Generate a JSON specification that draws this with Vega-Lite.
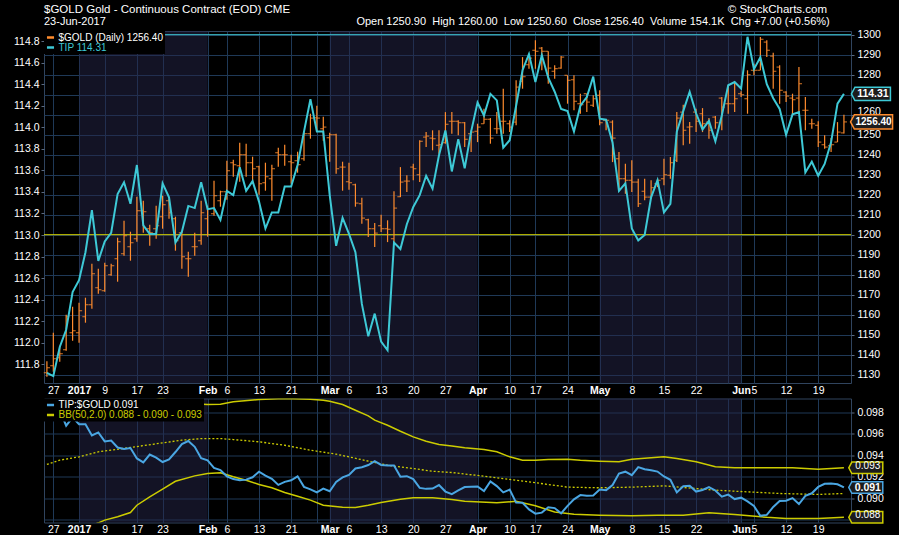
{
  "$schema": "https://vega.github.io/schema/vega-lite/v6.json",
  "background": "#000000",
  "padding": {"left": 13, "top": 3, "right": 4, "bottom": 2},
  "autosize": {"type": "pad"},
  "title": {
    "text": "$GOLD Gold - Continuous Contract (EOD) CME\u00a0\u00a0\u00a0\u00a0\u00a0\u00a0\u00a0\u00a0\u00a0\u00a0\u00a0\u00a0\u00a0\u00a0\u00a0\u00a0\u00a0\u00a0\u00a0\u00a0\u00a0\u00a0\u00a0\u00a0\u00a0\u00a0\u00a0\u00a0\u00a0\u00a0\u00a0\u00a0\u00a0\u00a0\u00a0\u00a0\u00a0\u00a0\u00a0\u00a0\u00a0\u00a0\u00a0\u00a0\u00a0\u00a0\u00a0\u00a0\u00a0\u00a0\u00a0\u00a0\u00a0\u00a0\u00a0\u00a0\u00a0\u00a0\u00a0\u00a0\u00a0\u00a0\u00a0\u00a0\u00a0\u00a0\u00a0\u00a0\u00a0\u00a0\u00a0\u00a0\u00a0\u00a0\u00a0\u00a0\u00a0\u00a0\u00a0\u00a0\u00a0\u00a0\u00a0\u00a0\u00a0\u00a0\u00a0\u00a0\u00a0\u00a0\u00a0\u00a0\u00a0\u00a0\u00a0\u00a0\u00a0\u00a0\u00a0\u00a0\u00a0\u00a0\u00a0\u00a0\u00a0\u00a0\u00a0\u00a0\u00a0\u00a0\u00a0\u00a0\u00a0\u00a0\u00a0\u00a0\u00a0\u00a0\u00a0\u00a0\u00a0\u00a0\u00a0\u00a0\u00a0\u00a0\u00a0\u00a0\u00a0\u00a0\u00a0\u00a0\u00a0\u00a0\u00a0\u00a0\u00a0© StockCharts.com",
    "subtitle": "23-Jun-2017\u00a0\u00a0\u00a0\u00a0\u00a0\u00a0\u00a0\u00a0\u00a0\u00a0\u00a0\u00a0\u00a0\u00a0\u00a0\u00a0\u00a0\u00a0\u00a0\u00a0\u00a0\u00a0\u00a0\u00a0\u00a0\u00a0\u00a0\u00a0\u00a0\u00a0\u00a0\u00a0\u00a0\u00a0\u00a0\u00a0\u00a0\u00a0\u00a0\u00a0\u00a0\u00a0\u00a0\u00a0\u00a0\u00a0\u00a0\u00a0\u00a0\u00a0\u00a0\u00a0\u00a0\u00a0\u00a0\u00a0\u00a0\u00a0\u00a0\u00a0\u00a0\u00a0\u00a0\u00a0\u00a0\u00a0\u00a0\u00a0\u00a0\u00a0\u00a0\u00a0\u00a0\u00a0\u00a0\u00a0\u00a0\u00a0\u00a0\u00a0\u00a0\u00a0Open 1250.90\u00a0 High 1260.00\u00a0 Low 1250.60\u00a0 Close 1256.40\u00a0 Volume 154.1K\u00a0 Chg +7.00 (+0.56%)",
    "anchor": "start",
    "color": "#ffffff",
    "subtitleColor": "#ffffff",
    "font": "Liberation Sans",
    "subtitleFont": "Liberation Sans",
    "fontSize": 11.5,
    "fontWeight": "normal",
    "subtitleFontSize": 11,
    "subtitleFontWeight": "normal",
    "offset": 2,
    "subtitlePadding": 1,
    "dx": 31
  },
  "spacing": 1.5,
  "resolve": {
    "scale": {"x": "independent", "y": "independent", "color": "independent"},
    "axis": {"x": "independent", "y": "independent"},
    "legend": {"color": "independent"}
  },
  "config": {
    "font": "Liberation Sans",
    "view": {"stroke": "#30445e", "strokeWidth": 1},
    "axis": {"labelColor": "#ffffff", "labelFontSize": 10.5, "domain": false, "gridColor": "#1f3957", "tickColor": "#5a6a80", "tickCount": 100}
  },
  "datasets": {
    "months": [
      {"start": 5, "end": 25},
      {"start": 44, "end": 67},
      {"start": 86, "end": 108}
    ],
    "px": [
      {"d":"2016-12-23","i":0,"open":1131,"high":1136.7,"low":1129,"close":1133.5,"tip":111.72,"ratio":0.09856},
      {"d":"2016-12-27","i":1,"open":1134.5,"high":1151,"low":1131.5,"close":1138,"tip":111.69,"ratio":0.09815},
      {"d":"2016-12-28","i":2,"open":1138.5,"high":1144.5,"low":1136.5,"close":1140.5,"tip":111.96,"ratio":0.09817},
      {"d":"2016-12-29","i":3,"open":1142.5,"high":1160,"low":1142,"close":1159,"tip":112.12,"ratio":0.09673},
      {"d":"2016-12-30","i":4,"open":1151,"high":1164,"low":1147,"close":1152,"tip":112.47,"ratio":0.0975},
      {"d":"2017-01-03","i":5,"open":1151,"high":1166,"low":1146,"close":1162,"tip":112.58,"ratio":0.09686},
      {"d":"2017-01-04","i":6,"open":1159,"high":1168.5,"low":1156,"close":1165,"tip":112.84,"ratio":0.09686},
      {"d":"2017-01-05","i":7,"open":1165,"high":1185.5,"low":1163,"close":1180.5,"tip":113.23,"ratio":0.09582},
      {"d":"2017-01-06","i":8,"open":1173.5,"high":1183,"low":1170.5,"close":1172.5,"tip":112.76,"ratio":0.0961},
      {"d":"2017-01-09","i":9,"open":1172,"high":1186,"low":1171.5,"close":1184.5,"tip":112.94,"ratio":0.09527},
      {"d":"2017-01-10","i":10,"open":1180,"high":1185.5,"low":1179.5,"close":1184.5,"tip":113.02,"ratio":0.09535},
      {"d":"2017-01-11","i":11,"open":1188,"high":1198.5,"low":1176.5,"close":1196.5,"tip":113.38,"ratio":0.0947},
      {"d":"2017-01-12","i":12,"open":1190.5,"high":1207,"low":1189.5,"close":1199.5,"tip":113.49,"ratio":0.09457},
      {"d":"2017-01-13","i":13,"open":1194,"high":1201.5,"low":1187,"close":1196,"tip":113.29,"ratio":0.09465},
      {"d":"2017-01-17","i":14,"open":1198,"high":1219,"low":1196.5,"close":1212,"tip":113.65,"ratio":0.09368},
      {"d":"2017-01-18","i":15,"open":1212,"high":1217,"low":1201,"close":1211.5,"tip":113.09,"ratio":0.09332},
      {"d":"2017-01-19","i":16,"open":1203,"high":1205,"low":1194.5,"close":1201,"tip":113.01,"ratio":0.09404},
      {"d":"2017-01-20","i":17,"open":1203,"high":1214.5,"low":1198,"close":1204.5,"tip":113.01,"ratio":0.09375},
      {"d":"2017-01-23","i":18,"open":1209,"high":1219.5,"low":1203,"close":1215,"tip":113.48,"ratio":0.09335},
      {"d":"2017-01-24","i":19,"open":1217,"high":1218,"low":1208,"close":1211,"tip":113.35,"ratio":0.0936},
      {"d":"2017-01-25","i":20,"open":1208,"high":1209,"low":1192,"close":1197,"tip":112.93,"ratio":0.09428},
      {"d":"2017-01-26","i":21,"open":1201,"high":1201.5,"low":1183,"close":1189,"tip":113.03,"ratio":0.09502},
      {"d":"2017-01-27","i":22,"open":1188,"high":1191.5,"low":1179,"close":1188,"tip":113.27,"ratio":0.0953},
      {"d":"2017-01-30","i":23,"open":1194,"high":1201,"low":1189.5,"close":1194,"tip":113.25,"ratio":0.09476},
      {"d":"2017-01-31","i":24,"open":1197,"high":1217,"low":1195,"close":1211,"tip":113.49,"ratio":0.0937},
      {"d":"2017-02-01","i":25,"open":1208,"high":1214.5,"low":1199,"close":1213,"tip":113.24,"ratio":0.0935},
      {"d":"2017-02-02","i":26,"open":1210.5,"high":1227,"low":1209.5,"close":1219.5,"tip":113.25,"ratio":0.0928},
      {"d":"2017-02-03","i":27,"open":1217,"high":1222,"low":1214,"close":1221.5,"tip":113.14,"ratio":0.0926},
      {"d":"2017-02-06","i":28,"open":1221.5,"high":1237,"low":1217.5,"close":1232,"tip":113.41,"ratio":0.09202},
      {"d":"2017-02-07","i":29,"open":1236,"high":1237.5,"low":1229,"close":1235,"tip":113.37,"ratio":0.09176},
      {"d":"2017-02-08","i":30,"open":1234.5,"high":1246,"low":1226.5,"close":1240,"tip":113.63,"ratio":0.09165},
      {"d":"2017-02-09","i":31,"open":1240,"high":1245.5,"low":1229,"close":1236,"tip":113.41,"ratio":0.09171},
      {"d":"2017-02-10","i":32,"open":1236,"high":1239,"low":1225.5,"close":1233,"tip":113.5,"ratio":0.09193},
      {"d":"2017-02-13","i":33,"open":1234,"high":1234.5,"low":1220,"close":1225.5,"tip":113.31,"ratio":0.09245},
      {"d":"2017-02-14","i":34,"open":1226,"high":1236,"low":1222,"close":1229,"tip":113.06,"ratio":0.09209},
      {"d":"2017-02-15","i":35,"open":1228,"high":1235,"low":1217,"close":1233,"tip":113.21,"ratio":0.09178},
      {"d":"2017-02-16","i":36,"open":1241,"high":1243.5,"low":1234,"close":1240,"tip":113.21,"ratio":0.09122},
      {"d":"2017-02-17","i":37,"open":1240,"high":1245,"low":1234.5,"close":1240,"tip":113.45,"ratio":0.0915},
      {"d":"2017-02-21","i":38,"open":1236.5,"high":1240,"low":1225.5,"close":1236,"tip":113.45,"ratio":0.09165},
      {"d":"2017-02-22","i":39,"open":1237,"high":1241.5,"low":1231,"close":1235,"tip":113.65,"ratio":0.09202},
      {"d":"2017-02-23","i":40,"open":1238,"high":1251.5,"low":1237,"close":1250.5,"tip":113.96,"ratio":0.09104},
      {"d":"2017-02-24","i":41,"open":1250.5,"high":1260.5,"low":1248,"close":1258.3,"tip":114.26,"ratio":0.09081},
      {"d":"2017-02-27","i":42,"open":1258.5,"high":1264.5,"low":1251.5,"close":1258.3,"tip":113.96,"ratio":0.09052},
      {"d":"2017-02-28","i":43,"open":1253,"high":1259,"low":1247,"close":1253.8,"tip":113.96,"ratio":0.09088},
      {"d":"2017-03-01","i":44,"open":1248.5,"high":1251,"low":1236.5,"close":1250,"tip":113.37,"ratio":0.09063},
      {"d":"2017-03-02","i":45,"open":1250,"high":1250.5,"low":1230.5,"close":1233,"tip":112.9,"ratio":0.0915},
      {"d":"2017-03-03","i":46,"open":1233.8,"high":1236.5,"low":1222,"close":1233.8,"tip":113.16,"ratio":0.09192},
      {"d":"2017-03-06","i":47,"open":1226.5,"high":1236,"low":1222.5,"close":1226,"tip":113.01,"ratio":0.09215},
      {"d":"2017-03-07","i":48,"open":1225,"high":1225.5,"low":1214,"close":1215.8,"tip":112.84,"ratio":0.09275},
      {"d":"2017-03-08","i":49,"open":1215.5,"high":1218.5,"low":1205.5,"close":1208.3,"tip":112.36,"ratio":0.09287},
      {"d":"2017-03-09","i":50,"open":1207.5,"high":1208,"low":1198.8,"close":1203,"tip":112.06,"ratio":0.09307},
      {"d":"2017-03-10","i":51,"open":1203,"high":1205.8,"low":1193.8,"close":1200.8,"tip":112.27,"ratio":0.09343},
      {"d":"2017-03-13","i":52,"open":1204.5,"high":1210,"low":1201.3,"close":1203,"tip":112.01,"ratio":0.09308},
      {"d":"2017-03-14","i":53,"open":1203,"high":1207.2,"low":1196.3,"close":1202.7,"tip":111.93,"ratio":0.09303},
      {"d":"2017-03-15","i":54,"open":1198,"high":1221.7,"low":1196.3,"close":1213.3,"tip":112.93,"ratio":0.09303},
      {"d":"2017-03-16","i":55,"open":1219,"high":1233.8,"low":1218.8,"close":1226.3,"tip":112.87,"ratio":0.09198},
      {"d":"2017-03-17","i":56,"open":1226.8,"high":1229.7,"low":1221.3,"close":1226.8,"tip":113.1,"ratio":0.09203},
      {"d":"2017-03-20","i":57,"open":1233.8,"high":1235.5,"low":1227.2,"close":1233,"tip":113.26,"ratio":0.09176},
      {"d":"2017-03-21","i":58,"open":1230,"high":1247.2,"low":1226.3,"close":1246.7,"tip":113.37,"ratio":0.09094},
      {"d":"2017-03-22","i":59,"open":1248.8,"high":1251.3,"low":1243.8,"close":1249.3,"tip":113.55,"ratio":0.09085},
      {"d":"2017-03-23","i":60,"open":1248.3,"high":1252.2,"low":1242.2,"close":1248,"tip":113.43,"ratio":0.09088},
      {"d":"2017-03-24","i":61,"open":1244.7,"high":1252.2,"low":1240.5,"close":1245,"tip":113.74,"ratio":0.0912},
      {"d":"2017-03-27","i":62,"open":1246,"high":1261.3,"low":1245.5,"close":1255.2,"tip":113.97,"ratio":0.0906},
      {"d":"2017-03-28","i":63,"open":1256.7,"high":1261.3,"low":1250.5,"close":1256.7,"tip":113.59,"ratio":0.09036},
      {"d":"2017-03-29","i":64,"open":1256.7,"high":1257.2,"low":1249.7,"close":1256,"tip":113.89,"ratio":0.0907},
      {"d":"2017-03-30","i":65,"open":1256,"high":1256.3,"low":1243.8,"close":1247.7,"tip":113.62,"ratio":0.09102},
      {"d":"2017-03-31","i":66,"open":1250.5,"high":1252.2,"low":1241.3,"close":1251.3,"tip":113.96,"ratio":0.09105},
      {"d":"2017-04-03","i":67,"open":1251.7,"high":1255.5,"low":1246.3,"close":1253.8,"tip":114.23,"ratio":0.09107},
      {"d":"2017-04-04","i":68,"open":1255.5,"high":1263,"low":1255.5,"close":1257.7,"tip":114.11,"ratio":0.09065},
      {"d":"2017-04-05","i":69,"open":1257.7,"high":1258.3,"low":1245.5,"close":1248.3,"tip":114.31,"ratio":0.09154},
      {"d":"2017-04-06","i":70,"open":1253,"high":1261.3,"low":1250.5,"close":1253,"tip":114.25,"ratio":0.09111},
      {"d":"2017-04-07","i":71,"open":1256.7,"high":1273,"low":1250.5,"close":1256.7,"tip":113.81,"ratio":0.09052},
      {"d":"2017-04-10","i":72,"open":1255.5,"high":1257.2,"low":1251.3,"close":1253.8,"tip":113.88,"ratio":0.09078},
      {"d":"2017-04-11","i":73,"open":1256.3,"high":1277.2,"low":1254.7,"close":1273.8,"tip":114.2,"ratio":0.08957},
      {"d":"2017-04-12","i":74,"open":1276.7,"high":1288.8,"low":1273,"close":1279,"tip":114.53,"ratio":0.08955},
      {"d":"2017-04-13","i":75,"open":1285,"high":1289.3,"low":1283,"close":1288.3,"tip":114.68,"ratio":0.08894},
      {"d":"2017-04-17","i":76,"open":1292.2,"high":1297.2,"low":1283,"close":1291.7,"tip":114.42,"ratio":0.08854},
      {"d":"2017-04-18","i":77,"open":1293.3,"high":1293.8,"low":1282.2,"close":1291.7,"tip":114.67,"ratio":0.08864},
      {"d":"2017-04-19","i":78,"open":1291.7,"high":1291.7,"low":1275.5,"close":1283.3,"tip":114.46,"ratio":0.08914},
      {"d":"2017-04-20","i":79,"open":1281.7,"high":1284.7,"low":1278,"close":1283,"tip":114.33,"ratio":0.08906},
      {"d":"2017-04-21","i":80,"open":1283.3,"high":1289.3,"low":1283,"close":1288.8,"tip":114.17,"ratio":0.08857},
      {"d":"2017-04-24","i":81,"open":1279.7,"high":1279.7,"low":1265.5,"close":1277.2,"tip":114.15,"ratio":0.08927},
      {"d":"2017-04-25","i":82,"open":1277.5,"high":1279.7,"low":1262.2,"close":1266.7,"tip":113.96,"ratio":0.08988},
      {"d":"2017-04-26","i":83,"open":1265.5,"high":1270.5,"low":1260.5,"close":1265,"tip":114.2,"ratio":0.09027},
      {"d":"2017-04-27","i":84,"open":1270.5,"high":1270.5,"low":1261.3,"close":1266.3,"tip":114.28,"ratio":0.09022},
      {"d":"2017-04-28","i":85,"open":1264.7,"high":1269.7,"low":1263.8,"close":1268,"tip":114.47,"ratio":0.09024},
      {"d":"2017-05-01","i":86,"open":1269.7,"high":1272.2,"low":1254.7,"close":1256,"tip":114.08,"ratio":0.09078},
      {"d":"2017-05-02","i":87,"open":1257.2,"high":1257.2,"low":1252.2,"close":1257.2,"tip":114.07,"ratio":0.09073},
      {"d":"2017-05-03","i":88,"open":1256.3,"high":1257.2,"low":1236.3,"close":1248.3,"tip":113.86,"ratio":0.0912},
      {"d":"2017-05-04","i":89,"open":1238,"high":1241.3,"low":1223,"close":1228,"tip":113.41,"ratio":0.09227},
      {"d":"2017-05-05","i":90,"open":1228,"high":1235.5,"low":1220.5,"close":1227.2,"tip":113.48,"ratio":0.09245},
      {"d":"2017-05-08","i":91,"open":1227.2,"high":1237.2,"low":1221.3,"close":1226.3,"tip":113.06,"ratio":0.09213},
      {"d":"2017-05-09","i":92,"open":1226.3,"high":1228,"low":1213.8,"close":1215.5,"tip":112.95,"ratio":0.09287},
      {"d":"2017-05-10","i":93,"open":1221.7,"high":1228,"low":1217.2,"close":1218.8,"tip":113,"ratio":0.09268},
      {"d":"2017-05-11","i":94,"open":1218.8,"high":1227.2,"low":1218,"close":1223.5,"tip":113.35,"ratio":0.09258},
      {"d":"2017-05-12","i":95,"open":1225.5,"high":1228,"low":1223.8,"close":1227.2,"tip":113.51,"ratio":0.09246},
      {"d":"2017-05-15","i":96,"open":1228,"high":1238,"low":1224.7,"close":1230,"tip":113.21,"ratio":0.092},
      {"d":"2017-05-16","i":97,"open":1229.7,"high":1238.8,"low":1228,"close":1236,"tip":113.29,"ratio":0.0917},
      {"d":"2017-05-17","i":98,"open":1237.2,"high":1261.3,"low":1236.3,"close":1258.3,"tip":113.96,"ratio":0.09052},
      {"d":"2017-05-18","i":99,"open":1261.3,"high":1265,"low":1244.7,"close":1252.2,"tip":114.15,"ratio":0.0911},
      {"d":"2017-05-19","i":100,"open":1253.8,"high":1256.3,"low":1245.5,"close":1254,"tip":114.33,"ratio":0.09113},
      {"d":"2017-05-22","i":101,"open":1261.3,"high":1263,"low":1251.3,"close":1256.7,"tip":114.13,"ratio":0.0906},
      {"d":"2017-05-23","i":102,"open":1260.5,"high":1263.3,"low":1251.3,"close":1255.5,"tip":113.98,"ratio":0.09075},
      {"d":"2017-05-24","i":103,"open":1256.3,"high":1258.3,"low":1248,"close":1252.2,"tip":114.06,"ratio":0.09102},
      {"d":"2017-05-25","i":104,"open":1258.8,"high":1259.3,"low":1253,"close":1256,"tip":113.87,"ratio":0.0907},
      {"d":"2017-05-26","i":105,"open":1268.3,"high":1268.8,"low":1252.2,"close":1263.8,"tip":114.11,"ratio":0.09012},
      {"d":"2017-05-30","i":106,"open":1265.5,"high":1274.7,"low":1260.5,"close":1265.5,"tip":114.39,"ratio":0.09032},
      {"d":"2017-05-31","i":107,"open":1265.5,"high":1276.3,"low":1261.3,"close":1268,"tip":114.42,"ratio":0.0899},
      {"d":"2017-06-01","i":108,"open":1270.5,"high":1271.7,"low":1268.8,"close":1270,"tip":114.36,"ratio":0.09003},
      {"d":"2017-06-02","i":109,"open":1268,"high":1282.2,"low":1260.5,"close":1280,"tip":114.84,"ratio":0.08968},
      {"d":"2017-06-05","i":110,"open":1282.2,"high":1285.5,"low":1279.7,"close":1282.2,"tip":114.54,"ratio":0.08925},
      {"d":"2017-06-06","i":111,"open":1282.2,"high":1298.8,"low":1282.2,"close":1297.7,"tip":114.65,"ratio":0.08834},
      {"d":"2017-06-07","i":112,"open":1296.3,"high":1297.2,"low":1288.8,"close":1292.2,"tip":114.4,"ratio":0.08843},
      {"d":"2017-06-08","i":113,"open":1289.3,"high":1291,"low":1273,"close":1281.7,"tip":114.27,"ratio":0.08917},
      {"d":"2017-06-09","i":114,"open":1283.8,"high":1284.7,"low":1265.5,"close":1272.2,"tip":114.17,"ratio":0.08972},
      {"d":"2017-06-12","i":115,"open":1271.3,"high":1271.7,"low":1266.3,"close":1269.3,"tip":113.93,"ratio":0.08975},
      {"d":"2017-06-13","i":116,"open":1268.3,"high":1270.5,"low":1259.7,"close":1267.5,"tip":114.12,"ratio":0.08999},
      {"d":"2017-06-14","i":117,"open":1268.3,"high":1283.8,"low":1260.5,"close":1275.5,"tip":114.14,"ratio":0.08944},
      {"d":"2017-06-15","i":118,"open":1262.2,"high":1268.8,"low":1252.2,"close":1262.2,"tip":113.58,"ratio":0.0902},
      {"d":"2017-06-16","i":119,"open":1255.5,"high":1258,"low":1253,"close":1255.5,"tip":113.68,"ratio":0.09044},
      {"d":"2017-06-19","i":120,"open":1254.7,"high":1256.7,"low":1243.8,"close":1246.3,"tip":113.55,"ratio":0.09103},
      {"d":"2017-06-20","i":121,"open":1245,"high":1249.7,"low":1243,"close":1243.8,"tip":113.66,"ratio":0.09132},
      {"d":"2017-06-21","i":122,"open":1244.5,"high":1248.3,"low":1241.3,"close":1245,"tip":113.86,"ratio":0.09136},
      {"d":"2017-06-22","i":123,"open":1246.3,"high":1256.3,"low":1246.3,"close":1251.3,"tip":114.22,"ratio":0.09128},
      {"d":"2017-06-23","i":124,"open":1250.9,"high":1260,"low":1250.6,"close":1256.4,"tip":114.31,"ratio":0.09098}
    ],
    "bb": [
      {"band":"upper","i":0,"v":0.1012},{"band":"upper","i":6,"v":0.1006},{"band":"upper","i":12,"v":0.1},{"band":"upper","i":19,"v":0.0991},
      {"band":"upper","i":22,"v":0.09879},{"band":"upper","i":25,"v":0.0987},{"band":"upper","i":27,"v":0.09873},{"band":"upper","i":29,"v":0.09895},
      {"band":"upper","i":33,"v":0.09916},{"band":"upper","i":37,"v":0.09926},{"band":"upper","i":41,"v":0.09919},{"band":"upper","i":43,"v":0.0991},
      {"band":"upper","i":44,"v":0.099},{"band":"upper","i":46,"v":0.0987},{"band":"upper","i":48,"v":0.09817},{"band":"upper","i":50,"v":0.09765},
      {"band":"upper","i":51,"v":0.09724},{"band":"upper","i":53,"v":0.09677},{"band":"upper","i":55,"v":0.09621},{"band":"upper","i":57,"v":0.09569},
      {"band":"upper","i":59,"v":0.09529},{"band":"upper","i":61,"v":0.09498},{"band":"upper","i":63,"v":0.09485},{"band":"upper","i":65,"v":0.09467},
      {"band":"upper","i":68,"v":0.09451},{"band":"upper","i":70,"v":0.0943},{"band":"upper","i":72,"v":0.09383},{"band":"upper","i":74,"v":0.09352},
      {"band":"upper","i":76,"v":0.09352},{"band":"upper","i":78,"v":0.09358},{"band":"upper","i":81,"v":0.09361},{"band":"upper","i":83,"v":0.09352},
      {"band":"upper","i":86,"v":0.09343},{"band":"upper","i":89,"v":0.09337},{"band":"upper","i":91,"v":0.09361},{"band":"upper","i":94,"v":0.09374},
      {"band":"upper","i":96,"v":0.09383},{"band":"upper","i":98,"v":0.09367},{"band":"upper","i":101,"v":0.09337},{"band":"upper","i":104,"v":0.0929},
      {"band":"upper","i":107,"v":0.09281},{"band":"upper","i":112,"v":0.09281},{"band":"upper","i":116,"v":0.09281},{"band":"upper","i":120,"v":0.09268},
      {"band":"upper","i":122,"v":0.09274},{"band":"upper","i":124,"v":0.09281},
      {"band":"mid","i":0,"v":0.09312},{"band":"mid","i":2,"v":0.09352},{"band":"mid","i":5,"v":0.09383},{"band":"mid","i":8,"v":0.0943},
      {"band":"mid","i":13,"v":0.0947},{"band":"mid","i":18,"v":0.09513},{"band":"mid","i":21,"v":0.09538},{"band":"mid","i":24,"v":0.09553},
      {"band":"mid","i":27,"v":0.09553},{"band":"mid","i":29,"v":0.09544},{"band":"mid","i":33,"v":0.09523},{"band":"mid","i":37,"v":0.09491},
      {"band":"mid","i":41,"v":0.09445},{"band":"mid","i":45,"v":0.09408},{"band":"mid","i":47,"v":0.09383},{"band":"mid","i":50,"v":0.09343},
      {"band":"mid","i":53,"v":0.09305},{"band":"mid","i":57,"v":0.09274},{"band":"mid","i":60,"v":0.09249},{"band":"mid","i":63,"v":0.09237},
      {"band":"mid","i":68,"v":0.09203},{"band":"mid","i":73,"v":0.09166},{"band":"mid","i":78,"v":0.09126},{"band":"mid","i":81,"v":0.09101},
      {"band":"mid","i":86,"v":0.09095},{"band":"mid","i":91,"v":0.09101},{"band":"mid","i":96,"v":0.09113},{"band":"mid","i":99,"v":0.09098},
      {"band":"mid","i":104,"v":0.09073},{"band":"mid","i":109,"v":0.09057},{"band":"mid","i":114,"v":0.09042},{"band":"mid","i":120,"v":0.09033},
      {"band":"mid","i":124,"v":0.09042},
      {"band":"lower","i":0,"v":0.0858},{"band":"lower","i":4,"v":0.0868},{"band":"lower","i":8,"v":0.08769},{"band":"lower","i":9,"v":0.08794},
      {"band":"lower","i":11,"v":0.08825},{"band":"lower","i":13,"v":0.08865},{"band":"lower","i":14,"v":0.08933},{"band":"lower","i":16,"v":0.09011},
      {"band":"lower","i":18,"v":0.09082},{"band":"lower","i":20,"v":0.09156},{"band":"lower","i":23,"v":0.09206},{"band":"lower","i":25,"v":0.09228},
      {"band":"lower","i":27,"v":0.09234},{"band":"lower","i":29,"v":0.09197},{"band":"lower","i":31,"v":0.09166},{"band":"lower","i":33,"v":0.09126},
      {"band":"lower","i":35,"v":0.09095},{"band":"lower","i":37,"v":0.09051},{"band":"lower","i":39,"v":0.09017},{"band":"lower","i":41,"v":0.0898},
      {"band":"lower","i":43,"v":0.08933},{"band":"lower","i":46,"v":0.08914},{"band":"lower","i":48,"v":0.08912},{"band":"lower","i":50,"v":0.08933},
      {"band":"lower","i":52,"v":0.08958},{"band":"lower","i":55,"v":0.08989},{"band":"lower","i":57,"v":0.09002},{"band":"lower","i":60,"v":0.09002},
      {"band":"lower","i":63,"v":0.08986},{"band":"lower","i":65,"v":0.0897},{"band":"lower","i":70,"v":0.08955},{"band":"lower","i":73,"v":0.0897},
      {"band":"lower","i":76,"v":0.08927},{"band":"lower","i":79,"v":0.0887},{"band":"lower","i":82,"v":0.08849},{"band":"lower","i":86,"v":0.0884},
      {"band":"lower","i":91,"v":0.08834},{"band":"lower","i":95,"v":0.0884},{"band":"lower","i":99,"v":0.0884},{"band":"lower","i":103,"v":0.08862},
      {"band":"lower","i":107,"v":0.08846},{"band":"lower","i":112,"v":0.0882},{"band":"lower","i":115,"v":0.08809},{"band":"lower","i":120,"v":0.08809},
      {"band":"lower","i":124,"v":0.0882}
    ]
  },
  "vconcat": [
    {
      "width": 807,
      "height": 352,
      "layer": [
        {
          "data": {"name": "months"},
          "mark": {"type": "rect", "fill": "#26264a", "opacity": 0.5},
          "encoding": {
            "x": {
              "field": "start", "type": "quantitative",
              "scale": {"domain": [-0.45, 125.1], "nice": false, "zero": false},
              "axis": {
                "title": null, "grid": true, "gridColor": "#1f3957", "ticks": false, "domain": false, "tickCount": 100,
                "labelPadding": 2, "labelFontSize": 10.5, "labelColor": "#ffffff",
                "labelOverlap": false, "labelFlush": false, "labelBound": false,
                "values": [1,5,9,14,18,25,28,33,38,42,44,47,52,57,62,67,72,76,81,86,91,96,101,106,108,110,115,120],
                "labelExpr": "['27','2017','9','17','23','Feb','6','13','21','','Mar','6','13','20','27','Apr','10','17','24','May','8','15','22','','Jun','5','12','19'][indexof([1,5,9,14,18,25,28,33,38,42,44,47,52,57,62,67,72,76,81,86,91,96,101,106,108,110,115,120], datum.value)]",
                "labelFontWeight": {"condition": {"test": "indexof([5,25,44,67,86,108], datum.value) >= 0", "value": "bold"}, "value": "normal"}
              }
            },
            "x2": {"field": "end"}
          }
        },
        {
          "layer": [
            {
              "data": {"values": [{"level": 1200}]},
              "mark": {"type": "rule", "color": "#d6d600", "strokeWidth": 1},
              "encoding": {
                "y": {
                  "field": "level", "type": "quantitative",
                  "scale": {"domain": [1125.85, 1301.85], "nice": false, "zero": false},
                  "axis": {
                    "orient": "right", "title": null, "grid": true, "gridColor": "#1f3957", "tickCount": 100,
                    "tickSize": 3, "tickColor": "#5a6a80", "domain": false, "labelPadding": 3, "labelOverlap": false,
                    "labelFontSize": 10.5, "labelColor": "#ffffff", "format": "d",
                    "labelExpr": "datum.value == 1270 ? '' : datum.label",
                    "labelOffset": {"condition": {"test": "datum.value == 1260", "value": -3.5}, "value": 0},
                    "values": [1130,1140,1150,1160,1170,1180,1190,1200,1210,1220,1230,1240,1250,1260,1270,1280,1290,1300]
                  }
                }
              }
            },
            {
              "data": {"values": [{"level": 1300}]},
              "mark": {"type": "rule", "color": "#3ec9d6", "strokeWidth": 1},
              "encoding": {
                "y": {"field": "level", "type": "quantitative", "scale": {"domain": [1125.85, 1301.85], "nice": false, "zero": false}}
              }
            },
            {
              "data": {"name": "px"},
              "mark": {"type": "rule", "strokeWidth": 1.2},
              "encoding": {
                "x": {"field": "i", "type": "quantitative", "scale": {"domain": [-0.45, 125.1], "nice": false, "zero": false}},
                "y": {"field": "low", "type": "quantitative", "scale": {"domain": [1125.85, 1301.85], "nice": false, "zero": false}},
                "y2": {"field": "high"},
                "color": {
                  "datum": "$GOLD (Daily) 1256.40", "type": "nominal",
                  "scale": {"domain": ["$GOLD (Daily) 1256.40", "TIP 114.31"], "range": ["#ff8c2e", "#3ec9d6"]},
                  "legend": {
                    "orient": "top-left", "title": null, "offset": 0, "padding": 1.5, "fillColor": "#000000",
                    "symbolType": "stroke", "symbolSize": 50, "symbolStrokeWidth": 2.5,
                    "labelFontSize": 10, "labelFont": "Liberation Sans", "rowPadding": 0, "labelOffset": 3, "labelLimit": 400,
                    "encode": {"labels": {"update": {"fill": {"signal": "datum.value === 'TIP 114.31' ? '#3ec9d6' : '#ffffff'"}}}}
                  }
                }
              }
            },
            {
              "data": {"name": "px"},
              "mark": {"type": "tick", "orient": "horizontal", "size": 3, "thickness": 1.2, "xOffset": -1.6, "color": "#ff8c2e"},
              "encoding": {
                "x": {"field": "i", "type": "quantitative", "scale": {"domain": [-0.45, 125.1], "nice": false, "zero": false}},
                "y": {"field": "open", "type": "quantitative", "scale": {"domain": [1125.85, 1301.85], "nice": false, "zero": false}}
              }
            },
            {
              "data": {"name": "px"},
              "mark": {"type": "tick", "orient": "horizontal", "size": 3, "thickness": 1.2, "xOffset": 1.6, "color": "#ff8c2e"},
              "encoding": {
                "x": {"field": "i", "type": "quantitative", "scale": {"domain": [-0.45, 125.1], "nice": false, "zero": false}},
                "y": {"field": "close", "type": "quantitative", "scale": {"domain": [1125.85, 1301.85], "nice": false, "zero": false}}
              }
            },
            {
              "data": {"values": [{"value": 1256.4, "label": "1256.40"}]},
              "mark": {"type": "point", "shape": "M-1,0L-0.82,-0.34L1,-0.34L1,0.34L-0.82,0.34Z", "size": 1764, "filled": true, "fill": "#1c1c1c", "stroke": "#ff8c2e", "strokeWidth": 1.5, "opacity": 1},
              "encoding": {
                "x": {"datum": 128.3, "type": "quantitative", "scale": {"domain": [-0.45, 125.1], "nice": false, "zero": false}},
                "y": {"field": "value", "type": "quantitative", "scale": {"domain": [1125.85, 1301.85], "nice": false, "zero": false}}
              }
            },
            {
              "data": {"values": [{"value": 1256.4, "label": "1256.40"}]},
              "mark": {"type": "text", "fontWeight": "bold", "fontSize": 10, "color": "#ffffff", "dx": 2, "dy": 0.5},
              "encoding": {
                "x": {"datum": 128.3, "type": "quantitative", "scale": {"domain": [-0.45, 125.1], "nice": false, "zero": false}},
                "y": {"field": "value", "type": "quantitative", "scale": {"domain": [1125.85, 1301.85], "nice": false, "zero": false}},
                "text": {"field": "label"}
              }
            }
          ]
        },
        {
          "layer": [
            {
              "data": {"name": "px"},
              "mark": {"type": "line", "strokeWidth": 2},
              "encoding": {
                "x": {"field": "i", "type": "quantitative", "scale": {"domain": [-0.45, 125.1], "nice": false, "zero": false}},
                "y": {
                  "field": "tip", "type": "quantitative",
                  "scale": {"domain": [111.626, 114.894], "nice": false, "zero": false},
                  "axis": {
                    "orient": "left", "title": null, "grid": false, "tickSize": 3, "tickColor": "#5a6a80", "tickCount": 100,
                    "domain": false, "labelPadding": 2, "labelFontSize": 10.5, "labelColor": "#ffffff", "format": ".1f", "labelOverlap": false,
                    "values": [111.8,112,112.2,112.4,112.6,112.8,113,113.2,113.4,113.6,113.8,114,114.2,114.4,114.6,114.8]
                  }
                },
                "color": {"datum": "TIP 114.31", "type": "nominal"}
              }
            },
            {
              "data": {"values": [{"value": 114.31, "label": "114.31"}]},
              "mark": {"type": "point", "shape": "M-1,0L-0.82,-0.34L1,-0.34L1,0.34L-0.82,0.34Z", "size": 1521, "filled": true, "fill": "#1c1c1c", "stroke": "#3ec9d6", "strokeWidth": 1.5, "opacity": 1},
              "encoding": {
                "x": {"datum": 128.2, "type": "quantitative", "scale": {"domain": [-0.45, 125.1], "nice": false, "zero": false}},
                "y": {"field": "value", "type": "quantitative", "scale": {"domain": [111.626, 114.894], "nice": false, "zero": false}}
              }
            },
            {
              "data": {"values": [{"value": 114.31, "label": "114.31"}]},
              "mark": {"type": "text", "fontWeight": "bold", "fontSize": 10.5, "color": "#ffffff", "dx": 2},
              "encoding": {
                "x": {"datum": 128.2, "type": "quantitative", "scale": {"domain": [-0.45, 125.1], "nice": false, "zero": false}},
                "y": {"field": "value", "type": "quantitative", "scale": {"domain": [111.626, 114.894], "nice": false, "zero": false}},
                "text": {"field": "label"}
              }
            }
          ]
        }
      ],
      "resolve": {"scale": {"y": "independent"}, "axis": {"y": "independent"}}
    },
    {
      "width": 807,
      "height": 124,
      "layer": [
        {
          "data": {"name": "months"},
          "mark": {"type": "rect", "fill": "#26264a", "opacity": 0.5},
          "encoding": {
            "x": {
              "field": "start", "type": "quantitative",
              "scale": {"domain": [-0.45, 125.1], "nice": false, "zero": false},
              "axis": {
                "title": null, "grid": true, "gridColor": "#1f3957", "ticks": false, "domain": false, "tickCount": 100,
                "labelPadding": 2, "labelFontSize": 10.5, "labelColor": "#ffffff",
                "labelOverlap": false, "labelFlush": false, "labelBound": false,
                "values": [1,5,9,14,18,25,28,33,38,42,44,47,52,57,62,67,72,76,81,86,91,96,101,106,108,110,115,120],
                "labelExpr": "['27','2017','9','17','23','Feb','6','13','21','','Mar','6','13','20','27','Apr','10','17','24','May','8','15','22','','Jun','5','12','19'][indexof([1,5,9,14,18,25,28,33,38,42,44,47,52,57,62,67,72,76,81,86,91,96,101,106,108,110,115,120], datum.value)]",
                "labelFontWeight": {"condition": {"test": "indexof([5,25,44,67,86,108], datum.value) >= 0", "value": "bold"}, "value": "normal"}
              }
            },
            "x2": {"field": "end"}
          }
        },
        {
          "data": {"name": "bb"},
          "transform": [{"filter": "datum.band !== 'mid'"}],
          "mark": {"type": "line", "strokeWidth": 1.5, "clip": true},
          "encoding": {
            "x": {"field": "i", "type": "quantitative", "scale": {"domain": [-0.45, 125.1], "nice": false, "zero": false}},
            "y": {
              "field": "v", "type": "quantitative",
              "scale": {"domain": [0.08772, 0.09926], "nice": false, "zero": false},
              "axis": {
                "orient": "right", "title": null, "grid": true, "gridColor": "#1f3957", "tickCount": 100,
                "tickSize": 3, "tickColor": "#5a6a80", "domain": false, "labelPadding": 3, "labelOverlap": false,
                "labelFontSize": 10.5, "labelColor": "#ffffff", "format": ".3f",
                "labelExpr": "datum.value < 0.0885 ? '' : datum.label",
                "values": [0.088, 0.09, 0.092, 0.094, 0.096, 0.098]
              }
            },
            "detail": {"field": "band"},
            "color": {
              "datum": "BB(50,2.0) 0.088 - 0.090 - 0.093", "type": "nominal",
              "scale": {"domain": ["TIP:$GOLD 0.091", "BB(50,2.0) 0.088 - 0.090 - 0.093"], "range": ["#4aa6e2", "#cccc00"]},
              "legend": {
                "orient": "top-left", "title": null, "offset": 0, "padding": 1.5, "fillColor": "#000000",
                "symbolType": "stroke", "symbolSize": 50, "symbolStrokeWidth": 2.5,
                "labelFontSize": 10, "labelFont": "Liberation Sans", "rowPadding": 0, "labelOffset": 3, "labelLimit": 400,
                "encode": {"labels": {"update": {"fill": {"signal": "datum.value === 'TIP:$GOLD 0.091' ? '#ffffff' : '#cccc00'"}}}}
              }
            }
          }
        },
        {
          "data": {"name": "bb"},
          "transform": [{"filter": "datum.band === 'mid'"}],
          "mark": {"type": "line", "strokeWidth": 1.3, "strokeDash": [2, 2], "color": "#cccc00", "clip": true},
          "encoding": {
            "x": {"field": "i", "type": "quantitative", "scale": {"domain": [-0.45, 125.1], "nice": false, "zero": false}},
            "y": {"field": "v", "type": "quantitative", "scale": {"domain": [0.08772, 0.09926], "nice": false, "zero": false}}
          }
        },
        {
          "data": {"name": "px"},
          "mark": {"type": "line", "strokeWidth": 2, "clip": true},
          "encoding": {
            "x": {"field": "i", "type": "quantitative", "scale": {"domain": [-0.45, 125.1], "nice": false, "zero": false}},
            "y": {"field": "ratio", "type": "quantitative", "scale": {"domain": [0.08772, 0.09926], "nice": false, "zero": false}},
            "color": {"datum": "TIP:$GOLD 0.091", "type": "nominal"}
          }
        },
        {
          "data": {"values": [
            {"series": "upper", "value": 0.09281, "label": "0.093"},
            {"series": "ratio", "value": 0.09098, "label": "0.091"},
            {"series": "lower", "value": 0.0882, "label": "0.088"}
          ]},
          "mark": {"type": "point", "shape": "M-1,0L-0.82,-0.34L1,-0.34L1,0.34L-0.82,0.34Z", "size": 1156, "filled": true, "fill": "#1c1c1c", "strokeWidth": 1.5, "opacity": 1},
          "encoding": {
            "x": {"datum": 127.4, "type": "quantitative", "scale": {"domain": [-0.45, 125.1], "nice": false, "zero": false}},
            "y": {"field": "value", "type": "quantitative", "scale": {"domain": [0.08772, 0.09926], "nice": false, "zero": false}},
            "stroke": {"field": "series", "type": "nominal", "scale": {"domain": ["upper", "ratio", "lower"], "range": ["#cccc00", "#4aa6e2", "#cccc00"]}, "legend": null}
          }
        },
        {
          "data": {"values": [
            {"series": "upper", "value": 0.09281, "label": "0.093"},
            {"series": "lower", "value": 0.0882, "label": "0.088"}
          ]},
          "mark": {"type": "text", "fontSize": 10, "color": "#ffffff", "dx": 2, "dy": -2},
          "encoding": {
            "x": {"datum": 127.4, "type": "quantitative", "scale": {"domain": [-0.45, 125.1], "nice": false, "zero": false}},
            "y": {"field": "value", "type": "quantitative", "scale": {"domain": [0.08772, 0.09926], "nice": false, "zero": false}},
            "text": {"field": "label"}
          }
        },
        {
          "data": {"values": [{"series": "ratio", "value": 0.09098, "label": "0.091"}]},
          "mark": {"type": "text", "fontSize": 10.5, "fontWeight": "bold", "color": "#ffffff", "dx": 2, "dy": 0.5},
          "encoding": {
            "x": {"datum": 127.4, "type": "quantitative", "scale": {"domain": [-0.45, 125.1], "nice": false, "zero": false}},
            "y": {"field": "value", "type": "quantitative", "scale": {"domain": [0.08772, 0.09926], "nice": false, "zero": false}},
            "text": {"field": "label"}
          }
        }
      ]
    }
  ]
}
